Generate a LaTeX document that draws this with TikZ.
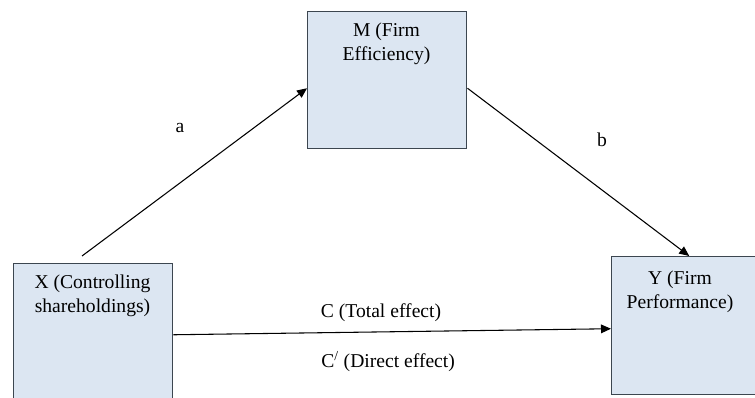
\documentclass[tikz,border=0pt]{standalone}
\usepackage{fontspec}
\setmainfont{Liberation Serif}
\usetikzlibrary{arrows.meta}
\definecolor{boxfill}{HTML}{DCE6F2}
\definecolor{boxline}{HTML}{3C4650}
\begin{document}
\begin{tikzpicture}[x=0.75pt,y=-0.75pt,
  varbox/.style={draw=boxline,line width=1.1pt,fill=boxfill,rectangle,inner sep=0pt,anchor=north west},
  boxtext/.style={font=\fontsize{14.7}{18}\selectfont,align=center,inner sep=0pt,anchor=base},
  lbl/.style={font=\fontsize{14.7}{18}\selectfont,inner sep=0pt,anchor=base},
  conn/.style={line width=0.8pt,-{Triangle[length=7.5pt,width=6.5pt]}}]
\useasboundingbox (0,0) rectangle (755,398);
\clip (0,0) rectangle (755,398);
\node[varbox,minimum width=119.25pt,minimum height=117.75pt] (X) at (13,263) {};
\node[varbox,minimum width=119.25pt,minimum height=102.75pt] (M) at (307,11) {};
\node[varbox,minimum width=119.25pt,minimum height=103.5pt] (Y) at (611,256) {};
\node[boxtext] (Xt) at (92.5,313) {X (Controlling\\shareholdings)};
\node[boxtext] (Mt) at (386.5,61) {M (Firm\\Efficiency)};
\node[boxtext] (Yt) at (680,309) {Y (Firm\\Performance)};
\coordinate (aStart) at (82,256);
\draw[conn] (aStart) -- ([yshift=-6pt]M.west);
\draw[conn] ([yshift=-6pt]M.east) -- ([xshift=-1.5pt]Y.north);
\draw[conn] ([yshift=5.6pt]X.east) -- ([yshift=-2.25pt]Y.west);
\node[lbl] (la) at (180,133) {a};
\node[lbl] (lb) at (602,147) {b};
\node[lbl] (lc) at (381,318) {C (Total effect)};
\node[lbl,anchor=base west] (lcp) at (321,367) {C\textsuperscript{/} (Direct effect)};
\end{tikzpicture}
\end{document}
